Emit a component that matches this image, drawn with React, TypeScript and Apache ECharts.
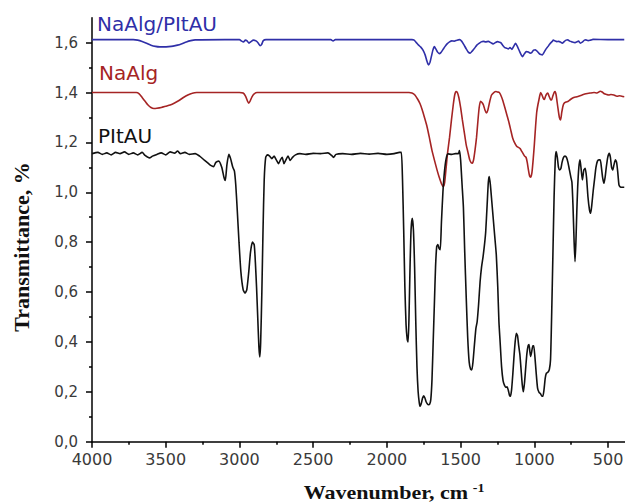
import React, { useEffect, useRef } from "react";
import * as echarts from "echarts";

// Wavenumber tick labels (cm-1) and transmittance ticks
const xMajorTicks = [4000, 3500, 3000, 2500, 2000, 1500, 1000, 500];
const xMinorTicks = [3750, 3250, 2750, 2250, 1750, 1250, 750];
const yMajorTicks = [0, 0.2, 0.4, 0.6, 0.8, 1.0, 1.2, 1.4, 1.6];
const yMinorTicks = [0.1, 0.3, 0.5, 0.7, 0.9, 1.1, 1.3, 1.5];

const seriesNames = ["NaAlg/PItAU", "NaAlg", "PItAU"];

// [wavenumber, transmittance]
const blendSpectrum: [number, number][] = [
  [4000, 1.612], [3720, 1.612], [3690, 1.61], [3660, 1.605], [3630, 1.598], [3600, 1.59],
  [3570, 1.585], [3540, 1.583], [3510, 1.583], [3480, 1.584], [3450, 1.586], [3420, 1.59],
  [3390, 1.596], [3360, 1.603], [3330, 1.608], [3300, 1.611], [3100, 1.612], [3000, 1.612],
  [2985, 1.606], [2972, 1.603], [2960, 1.61], [2948, 1.607], [2935, 1.598], [2922, 1.604],
  [2905, 1.61], [2885, 1.606], [2870, 1.596], [2860, 1.588], [2850, 1.592], [2838, 1.608],
  [2820, 1.612], [2380, 1.612], [2365, 1.607], [2350, 1.612], [1830, 1.612], [1815, 1.61],
  [1800, 1.6], [1785, 1.59], [1770, 1.582], [1755, 1.57], [1740, 1.55], [1728, 1.525],
  [1718, 1.511], [1708, 1.52], [1698, 1.545], [1688, 1.57], [1678, 1.584], [1668, 1.575],
  [1656, 1.562], [1645, 1.556], [1634, 1.56], [1620, 1.572], [1605, 1.585], [1590, 1.596],
  [1575, 1.603], [1560, 1.607], [1543, 1.606], [1525, 1.61], [1507, 1.612], [1492, 1.605],
  [1478, 1.592], [1462, 1.575], [1448, 1.562], [1435, 1.558], [1420, 1.567], [1405, 1.578],
  [1390, 1.59], [1375, 1.597], [1360, 1.603], [1345, 1.605], [1330, 1.603], [1312, 1.605],
  [1295, 1.6], [1280, 1.595], [1265, 1.6], [1250, 1.604], [1238, 1.602], [1228, 1.6],
  [1215, 1.59], [1200, 1.58], [1188, 1.578], [1177, 1.575], [1165, 1.58], [1152, 1.573],
  [1140, 1.585], [1128, 1.597], [1115, 1.585], [1100, 1.565], [1088, 1.55], [1079, 1.544],
  [1068, 1.555], [1054, 1.564], [1040, 1.562], [1028, 1.558], [1018, 1.56], [1005, 1.57],
  [993, 1.571], [980, 1.565], [965, 1.555], [955, 1.552], [945, 1.551], [935, 1.56],
  [920, 1.575], [908, 1.584], [895, 1.595], [880, 1.604], [871, 1.61], [860, 1.607],
  [848, 1.604], [835, 1.605], [822, 1.602], [810, 1.598], [798, 1.604], [785, 1.61],
  [773, 1.611], [760, 1.606], [745, 1.603], [724, 1.6], [710, 1.604], [700, 1.606],
  [688, 1.598], [675, 1.602], [660, 1.61], [651, 1.611], [635, 1.608], [620, 1.61],
  [602, 1.613], [500, 1.612], [390, 1.612],
];

const naalgSpectrum: [number, number][] = [
  [4000, 1.4], [3800, 1.4], [3700, 1.4], [3680, 1.395], [3660, 1.38], [3640, 1.365],
  [3620, 1.35], [3600, 1.34], [3580, 1.336], [3560, 1.337], [3530, 1.34], [3500, 1.345],
  [3470, 1.35], [3440, 1.358], [3410, 1.368], [3380, 1.38], [3350, 1.39], [3320, 1.397],
  [3290, 1.4], [3000, 1.4], [2975, 1.398], [2958, 1.385], [2945, 1.365], [2937, 1.357],
  [2928, 1.365], [2915, 1.383], [2900, 1.395], [2880, 1.4], [1850, 1.4], [1830, 1.398],
  [1810, 1.39], [1790, 1.372], [1775, 1.355], [1760, 1.33], [1745, 1.3], [1728, 1.264],
  [1712, 1.22], [1695, 1.17], [1678, 1.13], [1660, 1.09], [1645, 1.06], [1630, 1.035],
  [1618, 1.023], [1608, 1.04], [1598, 1.1], [1588, 1.16], [1575, 1.22], [1562, 1.29],
  [1550, 1.35], [1540, 1.39], [1531, 1.404], [1522, 1.4], [1512, 1.38], [1500, 1.34],
  [1488, 1.29], [1475, 1.24], [1462, 1.19], [1450, 1.16], [1438, 1.13], [1428, 1.118],
  [1420, 1.117], [1412, 1.13], [1402, 1.17], [1392, 1.22], [1382, 1.29], [1374, 1.34],
  [1365, 1.365], [1355, 1.36], [1345, 1.35], [1335, 1.33], [1325, 1.318], [1315, 1.33],
  [1302, 1.365], [1290, 1.39], [1275, 1.4], [1260, 1.404], [1248, 1.402], [1238, 1.4],
  [1228, 1.39], [1215, 1.37], [1200, 1.34], [1186, 1.31], [1172, 1.28], [1160, 1.25],
  [1148, 1.22], [1135, 1.2], [1120, 1.185], [1108, 1.18], [1096, 1.175], [1086, 1.165],
  [1078, 1.157], [1066, 1.145], [1056, 1.14], [1048, 1.12], [1040, 1.09], [1032, 1.065],
  [1025, 1.06], [1016, 1.08], [1008, 1.13], [1000, 1.19], [992, 1.26], [984, 1.32],
  [976, 1.35], [969, 1.37], [962, 1.39], [957, 1.4], [948, 1.39], [940, 1.378],
  [932, 1.372], [924, 1.385], [915, 1.395], [908, 1.398], [900, 1.385], [890, 1.372],
  [883, 1.37], [875, 1.385], [866, 1.4], [859, 1.404], [852, 1.39], [845, 1.36],
  [838, 1.33], [830, 1.3], [822, 1.29], [814, 1.32], [806, 1.345], [798, 1.357],
  [785, 1.362], [770, 1.365], [755, 1.372], [740, 1.378], [720, 1.382], [700, 1.385],
  [676, 1.39], [650, 1.395], [620, 1.398], [595, 1.4], [575, 1.398], [553, 1.405],
  [540, 1.402], [525, 1.395], [510, 1.392], [495, 1.39], [480, 1.392], [460, 1.39],
  [440, 1.385], [420, 1.387], [400, 1.384], [390, 1.383],
];

const pitauSpectrum: [number, number][] = [
  [4000, 1.155], [3960, 1.16], [3930, 1.152], [3900, 1.158], [3870, 1.15], [3840, 1.16],
  [3810, 1.155], [3780, 1.162], [3750, 1.152], [3720, 1.158], [3690, 1.15], [3660, 1.16],
  [3640, 1.148], [3610, 1.138], [3590, 1.145], [3560, 1.152], [3530, 1.158], [3500, 1.15],
  [3470, 1.162], [3440, 1.157], [3420, 1.165], [3400, 1.155], [3370, 1.16], [3340, 1.152],
  [3300, 1.155], [3270, 1.145], [3240, 1.13], [3215, 1.118], [3195, 1.108], [3175, 1.103],
  [3160, 1.12], [3140, 1.125], [3120, 1.1], [3105, 1.06], [3096, 1.047], [3085, 1.11],
  [3072, 1.152], [3060, 1.135], [3045, 1.1], [3034, 1.085], [3025, 1.03], [3015, 0.93],
  [3003, 0.8], [2990, 0.68], [2975, 0.61], [2962, 0.596], [2950, 0.61], [2937, 0.68],
  [2925, 0.76], [2912, 0.8], [2900, 0.79], [2892, 0.72], [2884, 0.62], [2876, 0.5],
  [2868, 0.38], [2862, 0.34], [2856, 0.4], [2848, 0.6], [2840, 0.85], [2832, 1.05],
  [2822, 1.14], [2810, 1.15], [2795, 1.145], [2780, 1.135], [2765, 1.145], [2750, 1.13],
  [2735, 1.115], [2722, 1.13], [2710, 1.14], [2698, 1.115], [2685, 1.13], [2670, 1.145],
  [2656, 1.128], [2640, 1.14], [2620, 1.15], [2590, 1.155], [2550, 1.152], [2500, 1.156],
  [2450, 1.155], [2400, 1.158], [2375, 1.148], [2362, 1.14], [2345, 1.152], [2300, 1.155],
  [2240, 1.152], [2180, 1.156], [2120, 1.153], [2060, 1.156], [2000, 1.152], [1950, 1.155],
  [1915, 1.16], [1902, 1.16], [1894, 1.05], [1886, 0.85], [1878, 0.62], [1870, 0.47],
  [1862, 0.41], [1856, 0.4], [1850, 0.5], [1843, 0.7], [1836, 0.85], [1828, 0.896],
  [1820, 0.85], [1812, 0.7], [1804, 0.48], [1796, 0.3], [1788, 0.2], [1780, 0.155],
  [1774, 0.142], [1766, 0.155], [1758, 0.175], [1750, 0.184], [1742, 0.175], [1734, 0.16],
  [1726, 0.152], [1718, 0.148], [1710, 0.15], [1702, 0.17], [1694, 0.25], [1686, 0.4],
  [1678, 0.55], [1670, 0.7], [1662, 0.783], [1654, 0.79], [1646, 0.775], [1638, 0.77],
  [1630, 0.88], [1620, 1.0], [1610, 1.08], [1598, 1.135], [1585, 1.154], [1560, 1.152],
  [1535, 1.155], [1515, 1.155], [1508, 1.167], [1500, 1.13], [1490, 1.03], [1481, 0.94],
  [1472, 0.76], [1462, 0.58], [1452, 0.42], [1442, 0.32], [1432, 0.29], [1424, 0.288],
  [1416, 0.32], [1406, 0.39], [1396, 0.455], [1388, 0.48], [1378, 0.55], [1368, 0.64],
  [1358, 0.7], [1348, 0.74], [1338, 0.79], [1330, 0.84], [1320, 0.95], [1312, 1.04],
  [1306, 1.063], [1298, 1.03], [1288, 0.96], [1278, 0.89], [1268, 0.82], [1258, 0.75],
  [1248, 0.62], [1240, 0.48], [1232, 0.4], [1222, 0.3], [1212, 0.245], [1202, 0.226],
  [1192, 0.218], [1184, 0.22], [1176, 0.205], [1168, 0.185], [1162, 0.182], [1154, 0.21],
  [1146, 0.27], [1138, 0.34], [1130, 0.4], [1122, 0.435], [1114, 0.425], [1106, 0.385],
  [1098, 0.35], [1090, 0.29], [1082, 0.23], [1074, 0.2], [1066, 0.24], [1058, 0.3],
  [1050, 0.355], [1042, 0.385], [1036, 0.39], [1030, 0.36], [1025, 0.342], [1018, 0.36],
  [1010, 0.385], [1004, 0.385], [996, 0.34], [988, 0.28], [978, 0.215], [968, 0.198],
  [958, 0.192], [948, 0.182], [942, 0.182], [934, 0.21], [926, 0.255], [918, 0.275],
  [908, 0.278], [898, 0.29], [890, 0.33], [882, 0.52], [874, 0.75], [866, 0.98],
  [858, 1.13], [852, 1.163], [844, 1.14], [836, 1.1], [828, 1.09], [820, 1.095],
  [812, 1.12], [802, 1.14], [792, 1.145], [782, 1.14], [772, 1.12], [762, 1.09],
  [752, 1.06], [745, 1.04], [738, 0.95], [730, 0.8], [724, 0.722], [718, 0.8],
  [712, 0.92], [706, 1.02], [698, 1.1], [690, 1.13], [682, 1.09], [674, 1.05],
  [664, 1.09], [655, 1.096], [646, 1.06], [636, 0.98], [626, 0.93], [618, 0.916],
  [610, 0.95], [600, 1.01], [590, 1.06], [582, 1.1], [572, 1.125], [562, 1.13],
  [553, 1.13], [545, 1.1], [537, 1.06], [528, 1.036], [520, 1.06], [512, 1.1],
  [502, 1.14], [492, 1.156], [484, 1.14], [476, 1.1], [468, 1.09], [460, 1.11],
  [450, 1.13], [442, 1.12], [434, 1.08], [426, 1.03], [418, 1.022], [405, 1.02],
  [390, 1.02],
];

const BLUE = "#2f2fa8";
const RED = "#a52424";
const BLACK = "#111111";

export default function App() {
  const ref = useRef<HTMLDivElement>(null);

  useEffect(() => {
    if (!ref.current) return;
    const chart = echarts.init(ref.current, null, { renderer: "svg" });
    const axisColor = "#000";
    const xMin = 385;
    const xMax = 4000;
    const yMin = 0;
    const yMax = 1.7;

    chart.setOption({
      animation: false,
      backgroundColor: "#fff",
      grid: {
        left: 92,
        right: 0,
        top: 17.7,
        bottom: 62.3,
        containLabel: false,
        outerBoundsMode: "none",
      },
      xAxis: [
        {
          type: "value",
          min: xMin,
          max: xMax,
          inverse: true,
          position: "bottom",
          axisLine: { show: true, onZero: false, lineStyle: { color: axisColor, width: 1.5 } },
          axisTick: {
            show: true,
            customValues: xMajorTicks,
            length: 6,
            lineStyle: { color: axisColor, width: 1.5 },
          },
          axisLabel: {
            show: true,
            customValues: xMajorTicks,
            fontFamily: "DejaVu Sans",
            fontSize: 16,
            color: "#3a3a3a",
            margin: 10,
            formatter: (v: number) => String(v),
          },
          splitLine: { show: false },
        },
        {
          type: "value",
          min: xMin,
          max: xMax,
          inverse: true,
          position: "bottom",
          offset: 0,
          axisLine: { show: false, onZero: false },
          axisTick: {
            show: true,
            customValues: xMinorTicks,
            length: 3,
            lineStyle: { color: axisColor, width: 1.5 },
          },
          axisLabel: { show: false },
          splitLine: { show: false },
        },
      ],
      yAxis: [
        {
          type: "value",
          min: yMin,
          max: yMax,
          position: "left",
          axisLine: { show: true, onZero: false, lineStyle: { color: axisColor, width: 1.5 } },
          axisTick: {
            show: true,
            customValues: yMajorTicks,
            length: 6,
            lineStyle: { color: axisColor, width: 1.5 },
          },
          axisLabel: {
            show: true,
            customValues: yMajorTicks,
            fontFamily: "DejaVu Sans",
            fontSize: 15,
            color: "#3a3a3a",
            margin: 14,
            formatter: (v: number) => v.toFixed(1).replace(".", ","),
          },
          splitLine: { show: false },
        },
        {
          type: "value",
          min: yMin,
          max: yMax,
          position: "left",
          offset: 0,
          axisLine: { show: false, onZero: false },
          axisTick: {
            show: true,
            customValues: yMinorTicks,
            length: 3,
            lineStyle: { color: axisColor, width: 1.5 },
          },
          axisLabel: { show: false },
          splitLine: { show: false },
        },
      ],
      series: [
        {
          name: seriesNames[0],
          type: "line",
          data: blendSpectrum,
          xAxisIndex: 0,
          yAxisIndex: 0,
          showSymbol: false,
          smooth: 0.2,
          lineStyle: { color: BLUE, width: 1.6 },
          itemStyle: { color: BLUE },
        },
        {
          name: seriesNames[1],
          type: "line",
          data: naalgSpectrum,
          xAxisIndex: 0,
          yAxisIndex: 0,
          showSymbol: false,
          smooth: 0.2,
          lineStyle: { color: RED, width: 1.6 },
          itemStyle: { color: RED },
        },
        {
          name: seriesNames[2],
          type: "line",
          data: pitauSpectrum,
          xAxisIndex: 0,
          yAxisIndex: 0,
          showSymbol: false,
          smooth: 0.2,
          lineStyle: { color: BLACK, width: 1.6 },
          itemStyle: { color: BLACK },
        },
      ],
      graphic: [
        {
          type: "text",
          x: 97,
          y: 24,
          style: {
            text: seriesNames[0],
            fontFamily: "DejaVu Sans",
            fontSize: 20,
            fill: BLUE,
            align: "left",
            verticalAlign: "middle",
            textAlign: "left",
            textVerticalAlign: "middle",
          },
        },
        {
          type: "text",
          x: 99,
          y: 73,
          style: {
            text: seriesNames[1],
            fontFamily: "DejaVu Sans",
            fontSize: 20,
            fill: RED,
            align: "left",
            verticalAlign: "middle",
            textAlign: "left",
            textVerticalAlign: "middle",
          },
        },
        {
          type: "text",
          x: 98,
          y: 136,
          style: {
            text: seriesNames[2],
            fontFamily: "DejaVu Sans",
            fontSize: 20,
            fill: BLACK,
            align: "left",
            verticalAlign: "middle",
            textAlign: "left",
            textVerticalAlign: "middle",
          },
        },
        {
          type: "text",
          x: 21,
          y: 247,
          rotation: Math.PI / 2,
          style: {
            text: "Transmittance, %",
            fontFamily: "Liberation Serif",
            fontWeight: "bold",
            fontSize: 22,
            fill: "#111",
            align: "center",
            verticalAlign: "middle",
            textAlign: "center",
            textVerticalAlign: "middle",
          },
        },
        {
          type: "text",
          x: 394,
          y: 492,
          scaleX: 1.16,
          style: {
            text: "{a|Wavenumber, cm}{b|-1}",
            align: "center",
            verticalAlign: "middle",
            textAlign: "center",
            textVerticalAlign: "middle",
            fill: "#111",
            rich: {
              a: {
                fontFamily: "Liberation Serif",
                fontWeight: "bold",
                fontSize: 19,
                lineHeight: 20,
                verticalAlign: "bottom",
                fill: "#111",
              },
              b: {
                fontFamily: "Liberation Serif",
                fontWeight: "bold",
                fontSize: 12,
                lineHeight: 20,
                verticalAlign: "top",
                padding: [0, 0, 0, 4],
                fill: "#111",
              },
            },
          },
        },
      ],
    });

    return () => {
      chart.dispose();
    };
  }, []);

  return (
    <div
      ref={ref}
      style={{ position: "fixed", left: 0, top: 0, width: 625, height: 504, background: "#fff" }}
    />
  );
}
